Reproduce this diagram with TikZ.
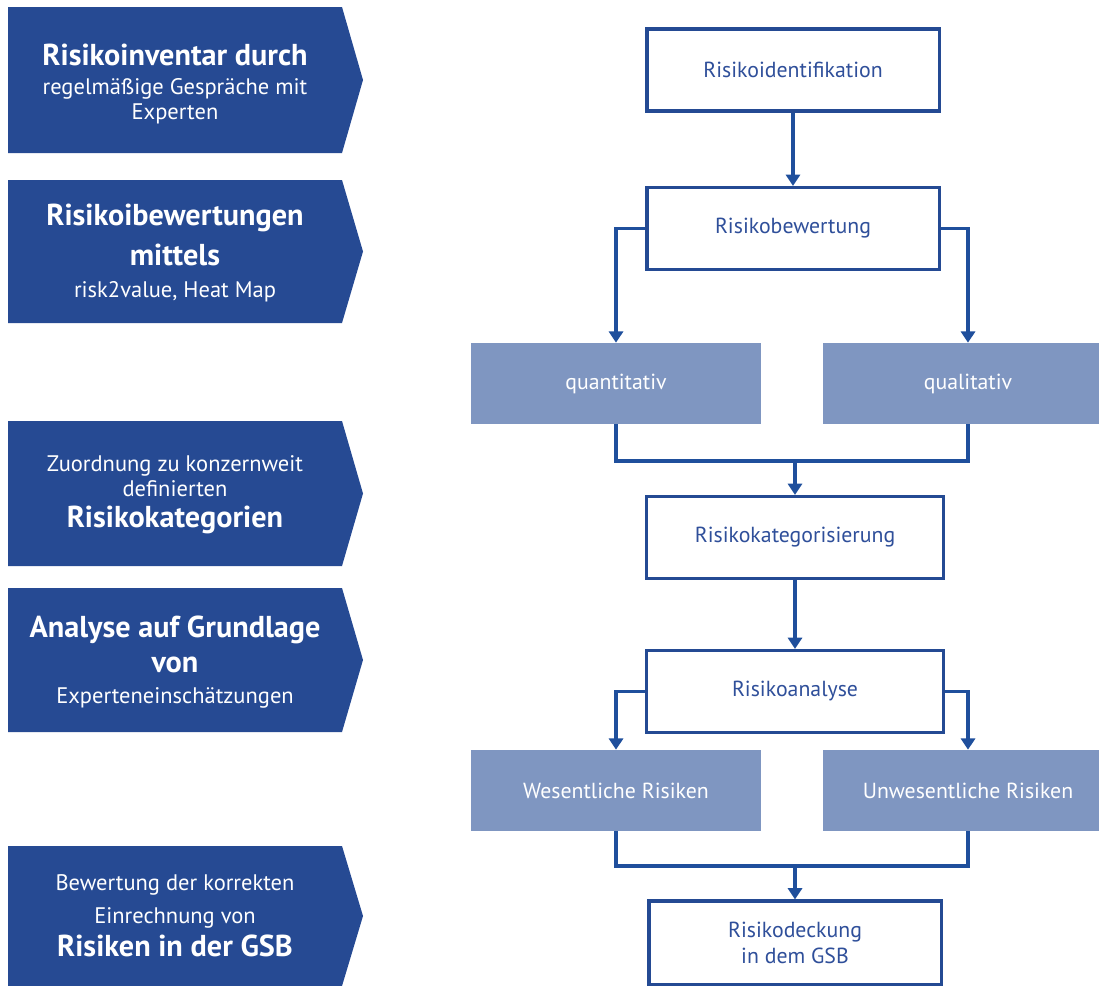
\documentclass[tikz,border=0pt]{standalone}
\usepackage{fontspec}
\setmainfont{PT Sans}
\usepackage{tikz}
\usetikzlibrary{arrows.meta,calc,positioning}

\definecolor{chevblue}{HTML}{264A93}
\definecolor{lightblue}{HTML}{7F96C1}
\definecolor{lineblue}{HTML}{1F4F9C}
\definecolor{boxblue}{HTML}{244A93}
\definecolor{txtblue}{HTML}{2F4F9A}

\newcommand{\chevhead}[1]{{\bfseries\fontsize{21.5}{26}\selectfont #1}}

\tikzset{
  chev/.style={fill=chevblue},
  chevtext/.style={text=white,align=center,font=\fontsize{16}{18}\selectfont},
  stepbox/.style={draw=boxblue,line width=2.2pt,fill=white,text=txtblue,
    minimum width=7.3cm,minimum height=2.05cm,font=\fontsize{15.5}{19}\selectfont,align=center},
  subbox/.style={fill=lightblue,text=white,minimum width=7.225cm,minimum height=2.025cm,
    font=\fontsize{15.5}{19}\selectfont},
  ln/.style={draw=lineblue,line width=2.2pt},
  arr/.style={ln,-{Triangle[width=10pt,length=8pt]}}
}

\begin{document}
\begin{tikzpicture}[x=0.025cm,y=-0.025cm]
  \useasboundingbox (0,0) rectangle (1099,986);

  % chevrons on the left
  \foreach \t/\b in {7/153,180/323,421/566,588/732,846/986}
    \fill[chev] (8,\t) -- (342,\t) -- (363,{(\t+\b)/2}) -- (342,\b) -- (8,\b) -- cycle;

  \node[chevtext] (inv) at (175,84) {\chevhead{Risikoinventar durch}\\[2.5pt]
    regelmäßige Gespräche mit\\ Experten};
  \node[chevtext] (bew) at (175,253) {\chevhead{Risikoibewertungen}\\[8pt]
    \chevhead{mittels}\\[5pt] risk2value, Heat Map};
  \node[chevtext] (zuo) at (175,495) {Zuordnung zu konzernweit\\ definierten\\[4pt]
    \chevhead{Risikokategorien}};
  \node[chevtext] (ana) at (175,662) {\chevhead{Analyse auf Grundlage}\\[7.5pt]
    \chevhead{von}\\[4pt] Experteneinschätzungen};
  \node[chevtext] (gsb) at (175,916) {Bewertung der korrekten\\[5.5pt]
    Einrechnung von\\[4pt] \chevhead{Risiken in der GSB}};

  % flow on the right
  \node[stepbox] (ident) at (793,70) {Risikoidentifikation};
  \node[stepbox] (bewert) at (793,228.5) {Risikobewertung};
  \node[subbox] (quant) at (616,383.5) {quantitativ};
  \node[subbox] (qual) at (968,383.5) {qualitativ};
  \node[stepbox,minimum width=7.425cm] (kat) at (795,537.5) {Risikokategorisierung};
  \node[stepbox,minimum width=7.425cm] (anal) at (795,691.5) {Risikoanalyse};
  \node[subbox] (wes) at (616,790.5) {Wesentliche Risiken};
  \node[subbox] (unw) at (968,790.5) {Unwesentliche Risiken};
  \node[stepbox,minimum height=2.1cm] (deck) at (795,943) {Risikodeckung\\ in dem GSB};

  \coordinate (j1) at (795,461);
  \coordinate (j2) at (795,866);

  \draw[arr] (ident) -- (bewert);
  \draw[arr] (bewert.west) -| (quant.north);
  \draw[arr] (bewert.east) -| (qual.north);
  \draw[ln] (quant.south) |- (j1);
  \draw[ln] (qual.south) |- (j1);
  \draw[arr] (j1) -- (kat.north);
  \draw[arr] (kat) -- (anal);
  \draw[arr] (anal.west) -| (wes.north);
  \draw[arr] (anal.east) -| (unw.north);
  \draw[ln] (wes.south) |- (j2);
  \draw[ln] (unw.south) |- (j2);
  \draw[arr] (j2) -- (deck.north);
\end{tikzpicture}
\end{document}
